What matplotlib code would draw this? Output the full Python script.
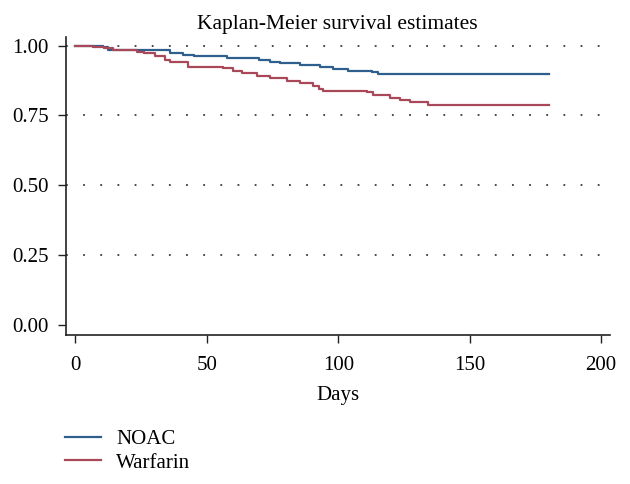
import numpy as np
import matplotlib.pyplot as plt

# Kaplan-Meier step data (day of step, survival after step)
noac_days = [0, 10.6, 12.5, 36, 41, 45, 57.6, 70, 74, 78, 85.4, 93, 98, 103.8, 113, 115, 180]
noac_surv = [1.0, 0.995, 0.985, 0.975, 0.967, 0.963, 0.955, 0.947, 0.941, 0.937, 0.929, 0.922, 0.916, 0.910, 0.904, 0.898, 0.898]

warf_days = [0, 6.8, 11, 14.4, 23.3, 26, 30.3, 34, 36, 43, 56.3, 60, 63.3, 69, 74, 80.4,
             85.4, 90.5, 92.5, 94.3, 110.8, 113.3, 119.7, 123.5, 127.3, 134.2, 180]
warf_surv = [1.0, 0.995, 0.991, 0.986, 0.979, 0.973, 0.963, 0.949, 0.941, 0.925, 0.919, 0.911,
             0.902, 0.892, 0.884, 0.872, 0.866, 0.854, 0.845, 0.839, 0.834, 0.822, 0.813,
             0.807, 0.797, 0.789, 0.789]

x_ticks = [0, 50, 100, 150, 200]
y_ticks = [0.0, 0.25, 0.5, 0.75, 1.0]
grid_levels = [0.25, 0.5, 0.75, 1.0]

plt.rcParams['font.family'] = ['Liberation Serif', 'DejaVu Serif']
fs = 15

fig = plt.figure(figsize=(6.3, 4.84), dpi=100)
ax = fig.add_axes([0.1043, 0.3085, 0.968 - 0.1043, 0.9236 - 0.3085])

for lvl in grid_levels:
    ax.axhline(lvl, color='#3a3a3a', linewidth=1.3, linestyle=(0, (1, 8.5)), zorder=1)

ax.step(noac_days, noac_surv, where='post', color='#2f5f8c', linewidth=1.6, label='NOAC', zorder=3)
ax.step(warf_days, warf_surv, where='post', color='#a84858', linewidth=1.6, label='Warfarin', zorder=3)

ax.set_xlim(-3.65, 203.3)
ax.set_ylim(-0.0345, 1.031)
ax.set_xticks(x_ticks)
ax.set_yticks(y_ticks)
ax.set_xticklabels([str(v) for v in x_ticks])
ax.set_yticklabels(['%.2f' % v for v in y_ticks])
ax.tick_params(axis='both', direction='out', length=6, width=1, labelsize=fs, color='#222222')
ax.tick_params(axis='y', pad=6)
ax.tick_params(axis='x', pad=9)
for s in ['top', 'right']:
    ax.spines[s].set_visible(False)
for s in ['left', 'bottom']:
    ax.spines[s].set_linewidth(1.2)
    ax.spines[s].set_color('#222222')

ax.set_xlabel('Days', fontsize=fs, labelpad=8)
ax.set_title('Kaplan-Meier survival estimates', fontsize=15.5, pad=6)

fig.legend(loc='upper left', bbox_to_anchor=(0.09, 0.13), frameon=False,
           fontsize=fs, handlelength=1.73, handletextpad=0.72, labelspacing=0.2,
           borderaxespad=0)

fig.savefig('out.png', dpi=100)
